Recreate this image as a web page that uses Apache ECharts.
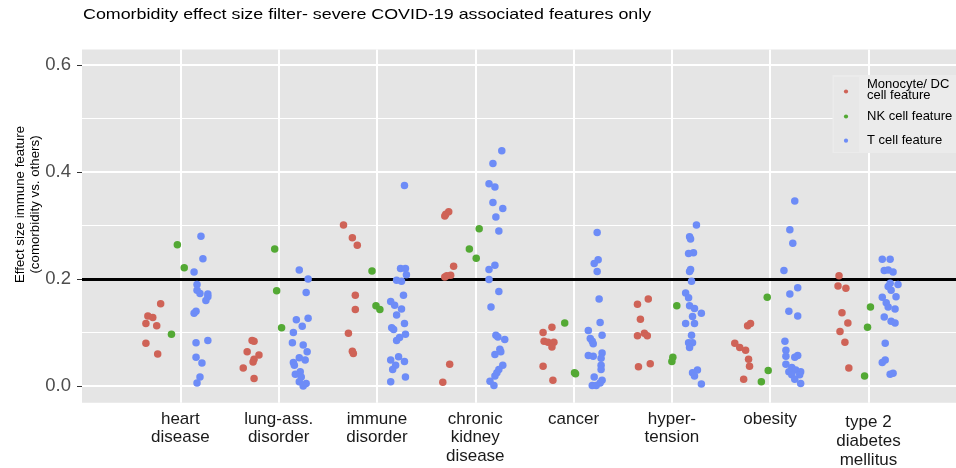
<!DOCTYPE html>
<html>
<head>
<meta charset="utf-8">
<script src="https://cdn.jsdelivr.net/npm/echarts@6/dist/echarts.min.js"></script>
<style>
html,body{margin:0;padding:0;background:#fff;}
#chart{width:956px;height:468px;}
</style>
</head>
<body>
<div id="chart"></div>
<script>
const categories = ['heart\ndisease','lung-ass.\ndisorder','immune\ndisorder','chronic\nkidney\ndisease','cancer','hyper-\ntension','obesity','type 2\ndiabetes\nmellitus'];
const yTicks = [0, 0.2, 0.4, 0.6];
const threshold = 0.2;
const groupNames = ['Monocyte/ DC\ncell feature', 'NK cell feature', 'T cell feature'];

// [category position incl. jitter, effect size]
const monocyteDC = [
  [0.80,0.154],[0.67,0.131],[0.72,0.128],[0.65,0.117],[0.76,0.113],[0.65,0.080],[0.77,0.060],
  [1.73,0.085],[1.75,0.084],[1.68,0.064],[1.80,0.058],[1.75,0.050],[1.74,0.045],[1.64,0.034],[1.75,0.014],
  [2.66,0.301],[2.75,0.277],[2.80,0.263],[2.78,0.170],[2.78,0.143],[2.71,0.099],[2.75,0.065],[2.76,0.061],
  [3.73,0.326],[3.69,0.318],[3.70,0.321],[3.78,0.224],[3.69,0.204],[3.75,0.207],[3.71,0.206],[3.74,0.041],[3.67,0.007],
  [4.78,0.110],[4.69,0.100],[4.70,0.084],[4.74,0.082],[4.80,0.082],[4.78,0.073],[4.69,0.037],[4.79,0.011],
  [5.76,0.163],[5.65,0.153],[5.68,0.125],[5.72,0.099],[5.65,0.094],[5.75,0.094],[5.78,0.042],[5.66,0.036],
  [6.77,0.113],[6.80,0.117],[6.64,0.080],[6.69,0.072],[6.75,0.067],[6.78,0.050],[6.79,0.037],[6.73,0.013],
  [7.70,0.206],[7.69,0.187],[7.77,0.183],[7.73,0.137],[7.79,0.118],[7.71,0.102],[7.76,0.082],[7.80,0.034]
];
const nkCell = [
  [0.97,0.264],[1.04,0.221],[0.91,0.097],
  [1.96,0.256],[1.98,0.178],[2.03,0.109],
  [2.95,0.215],[2.99,0.150],[3.03,0.143],
  [4.04,0.294],[3.94,0.256],[4.01,0.239],
  [4.91,0.118],[5.02,0.023],[5.01,0.025],
  [6.05,0.150],[6.01,0.054],[6.00,0.046],
  [6.97,0.166],[6.98,0.029],[6.91,0.008],
  [8.02,0.148],[7.99,0.110],[7.96,0.019]
];
const tCell = [
  [1.21,0.280],[1.23,0.238],[1.14,0.213],[1.17,0.190],[1.17,0.179],[1.20,0.173],[1.28,0.172],[1.28,0.167],[1.26,0.160],[1.16,0.140],[1.14,0.136],[1.16,0.081],[1.28,0.085],[1.16,0.054],[1.22,0.043],[1.20,0.017],[1.17,0.006],
  [2.21,0.217],[2.30,0.200],[2.28,0.175],[2.18,0.124],[2.30,0.127],[2.24,0.112],[2.15,0.100],[2.14,0.081],[2.25,0.077],[2.29,0.064],[2.21,0.053],[2.27,0.049],[2.15,0.044],[2.16,0.039],[2.22,0.027],[2.17,0.022],[2.23,0.017],[2.21,0.008],[2.28,0.005],[2.25,0.000],
  [3.28,0.375],[3.24,0.220],[3.29,0.220],[3.30,0.208],[3.20,0.198],[3.25,0.196],[3.27,0.170],[3.14,0.158],[3.18,0.151],[3.25,0.144],[3.20,0.133],[3.28,0.117],[3.15,0.109],[3.17,0.106],[3.29,0.097],[3.23,0.091],[3.20,0.085],[3.22,0.055],[3.14,0.049],[3.28,0.046],[3.19,0.039],[3.16,0.031],[3.29,0.017],[3.14,0.008],
  [4.27,0.440],[4.18,0.416],[4.14,0.378],[4.20,0.372],[4.18,0.343],[4.28,0.332],[4.21,0.316],[4.24,0.290],[4.20,0.226],[4.14,0.218],[4.14,0.199],[4.24,0.177],[4.16,0.148],[4.21,0.095],[4.23,0.092],[4.30,0.087],[4.25,0.069],[4.26,0.064],[4.20,0.059],[4.28,0.039],[4.24,0.031],[4.22,0.025],[4.20,0.019],[4.15,0.009],[4.19,0.001],
  [5.24,0.287],[5.25,0.236],[5.21,0.229],[5.24,0.214],[5.26,0.163],[5.27,0.119],[5.15,0.104],[5.29,0.095],[5.17,0.089],[5.19,0.084],[5.20,0.079],[5.29,0.062],[5.15,0.057],[5.20,0.056],[5.28,0.052],[5.28,0.039],[5.28,0.031],[5.21,0.017],[5.29,0.011],[5.27,0.006],[5.23,0.001],[5.19,0.001],
  [6.25,0.301],[6.18,0.279],[6.19,0.275],[6.22,0.249],[6.17,0.248],[6.19,0.218],[6.18,0.214],[6.20,0.196],[6.14,0.174],[6.17,0.165],[6.18,0.150],[6.23,0.145],[6.30,0.136],[6.21,0.130],[6.14,0.117],[6.23,0.117],[6.20,0.095],[6.17,0.081],[6.21,0.081],[6.18,0.072],[6.26,0.030],[6.21,0.025],[6.23,0.019],[6.30,0.004],
  [7.25,0.346],[7.20,0.292],[7.23,0.267],[7.14,0.216],[7.28,0.184],[7.20,0.172],[7.19,0.140],[7.28,0.131],[7.15,0.084],[7.16,0.067],[7.28,0.057],[7.25,0.054],[7.16,0.056],[7.16,0.041],[7.22,0.035],[7.26,0.030],[7.31,0.027],[7.19,0.027],[7.22,0.021],[7.30,0.021],[7.25,0.013],[7.31,0.005],
  [8.14,0.237],[8.22,0.237],[8.16,0.216],[8.20,0.217],[8.25,0.213],[8.22,0.192],[8.30,0.190],[8.20,0.186],[8.23,0.179],[8.28,0.167],[8.14,0.166],[8.18,0.156],[8.20,0.148],[8.27,0.144],[8.16,0.129],[8.23,0.121],[8.27,0.118],[8.17,0.080],[8.17,0.049],[8.14,0.044],[8.22,0.022],[8.25,0.024]
];

const colors = ['#cf6357', '#53a934', '#6d8cf7'];
const FONT = '"Liberation Sans", Arial, Helvetica, sans-serif';
const PANEL = '#e5e5e5';

const chart = echarts.init(document.getElementById('chart'));

const majorY = yTicks.map(v => ({yAxis: v, lineStyle: {width: 2}}));
const minorY = [0.1, 0.3, 0.5].map(v => ({yAxis: v, lineStyle: {width: 1}}));
const majorX = categories.map((c, i) => ({xAxis: i + 1, lineStyle: {width: 2}}));

const seriesData = [monocyteDC, nkCell, tCell];

const option = {
  animation: false,
  grid: {left: 82, top: 49.5, right: 0, bottom: 65.3, outerBoundsMode: 'none', containLabel: false, show: true, backgroundColor: PANEL, borderWidth: 0},
  xAxis: {
    type: 'value', min: 0, max: 8.89,
    splitLine: {show: false}, axisLine: {show: false},
    axisTick: {show: true, customValues: categories.map((c, i) => i + 1), length: 5, lineStyle: {color: '#333', width: 1}},
    axisLabel: {
      customValues: categories.map((c, i) => i + 1),
      formatter: v => {
        const s = categories[Math.round(v) - 1] || '';
        return s.indexOf('type 2') === 0 ? '{pad| }\n' + s : s;
      },
      rich: {pad: {fontSize: 1, lineHeight: 3.5, height: 3.5}},
      fontFamily: FONT, fontSize: 17, lineHeight: 18.7, color: '#1a1a1a', margin: 7
    }
  },
  yAxis: {
    type: 'value', min: -0.031, max: 0.629,
    splitLine: {show: false}, axisLine: {show: false},
    axisTick: {show: true, customValues: yTicks, length: 5, lineStyle: {color: '#333', width: 1}},
    axisLabel: {customValues: yTicks, formatter: v => v.toFixed(1), fontFamily: FONT, fontSize: 18.5, color: '#4d4d4d', margin: 11}
  },
  graphic: [
    {type: 'text', x: 83, y: 15, scaleX: 1.19, style: {text: 'Comorbidity effect size filter- severe COVID-19 associated features only', fontFamily: FONT, fontSize: 15, fill: '#000', verticalAlign: 'middle'}},
    {type: 'text', x: 27.5, y: 204.5, rotation: Math.PI / 2,
      style: {text: 'Effect size immune feature\n(comorbidity vs. others)', fontFamily: FONT, fontSize: 13.3, lineHeight: 15, fill: '#000', align: 'center', verticalAlign: 'middle'}},
    {type: 'rect', shape: {x: 832.5, y: 75, width: 124, height: 78}, style: {fill: '#ebebeb'}, z: 10},
    {type: 'rect', shape: {x: 834, y: 77, width: 25, height: 75}, style: {fill: '#e7e7e7'}, z: 11},
    {type: 'circle', shape: {cx: 846, cy: 91.5, r: 2.1}, style: {fill: colors[0]}, z: 12},
    {type: 'circle', shape: {cx: 846, cy: 116.5, r: 2.1}, style: {fill: colors[1]}, z: 12},
    {type: 'circle', shape: {cx: 846, cy: 140.7, r: 2.1}, style: {fill: colors[2]}, z: 12},
    {type: 'text', x: 867, y: 90, style: {text: groupNames[0], fontFamily: FONT, fontSize: 13, lineHeight: 11.5, fill: '#000', verticalAlign: 'middle'}, z: 12},
    {type: 'text', x: 867, y: 116, style: {text: groupNames[1], fontFamily: FONT, fontSize: 13, fill: '#000', verticalAlign: 'middle'}, z: 12},
    {type: 'text', x: 867, y: 140.7, style: {text: groupNames[2], fontFamily: FONT, fontSize: 13, fill: '#000', verticalAlign: 'middle'}, z: 12}
  ],
  series: [
    {
      type: 'scatter', data: [], silent: true, z: 1,
      markLine: {
        silent: true, z: 1, symbol: ['none', 'none'], label: {show: false},
        lineStyle: {color: '#ffffff', type: 'solid'},
        emphasis: {disabled: true},
        data: minorY.concat(majorY, majorX)
      }
    },
    {
      type: 'scatter', data: [], silent: true, z: 2,
      markLine: {
        silent: true, z: 2, symbol: ['none', 'none'], label: {show: false},
        lineStyle: {color: '#000', width: 3, type: 'solid'},
        emphasis: {disabled: true},
        data: [{yAxis: threshold}]
      }
    }
  ].concat(seriesData.map((d, i) => ({
    type: 'scatter', name: groupNames[i], data: d, symbolSize: 7.5, z: 3,
    itemStyle: {color: colors[i], opacity: 1}
  })))
};
chart.setOption(option);
</script>
</body>
</html>
